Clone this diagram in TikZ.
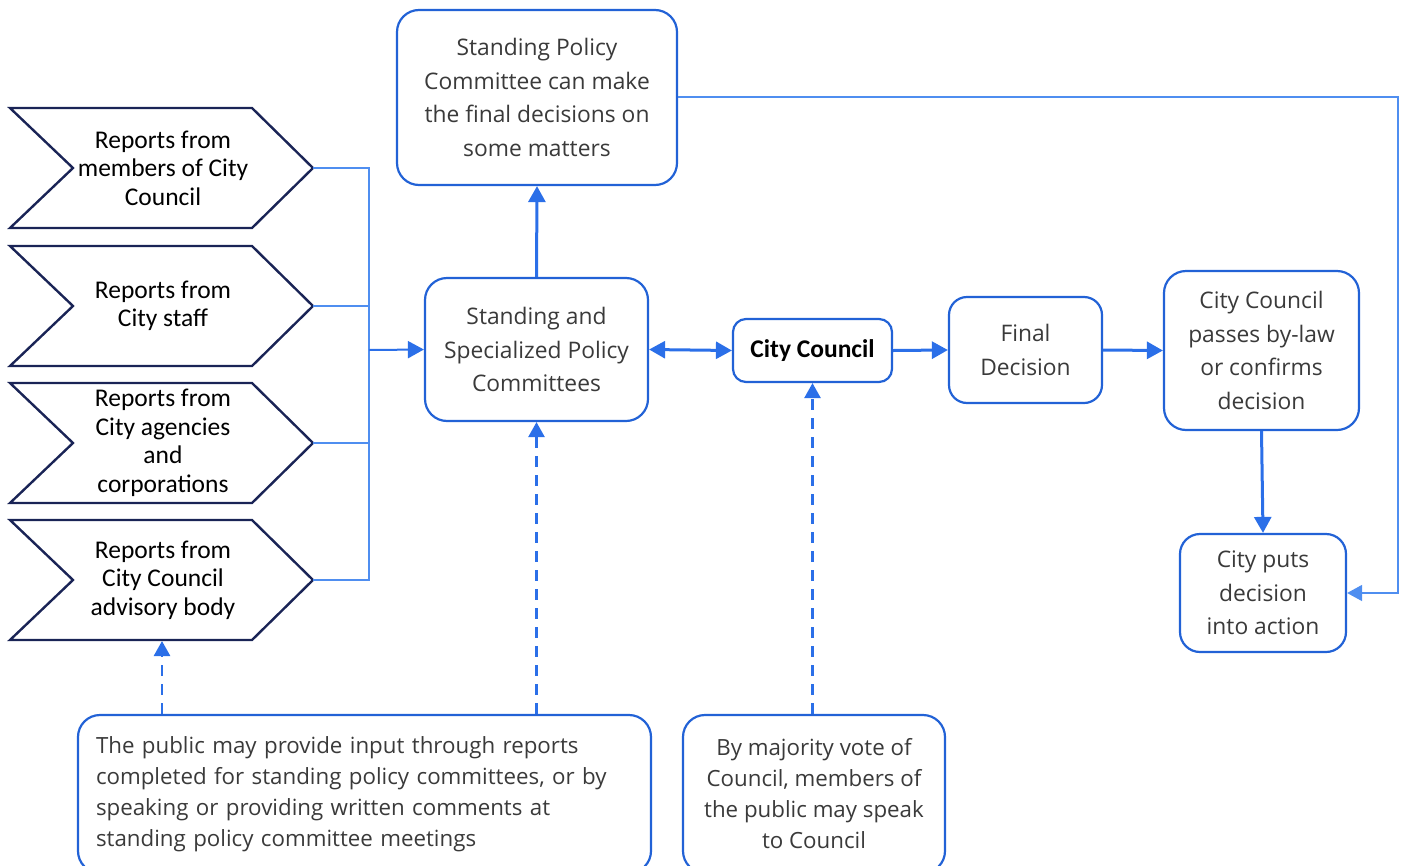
\documentclass[tikz,border=0pt]{standalone}
\usepackage{fontspec}
\setmainfont{Open Sans}
\newfontfamily\calfont{Carlito}
\usetikzlibrary{arrows.meta}
\definecolor{bx}{HTML}{2262D6}
\definecolor{ar}{HTML}{2B6FE8}
\definecolor{thin}{HTML}{4F8EF0}
\definecolor{nav}{HTML}{1A2456}
\definecolor{tx}{HTML}{3A3A3A}
\begin{document}
\begin{tikzpicture}[x=1pt,y=-1pt,
  rbox/.style={draw=bx, line width=2.2pt, rounded corners=22pt, fill=white, text=tx, align=center, inner sep=0pt,
    font=\fontsize{22.8}{33.5}\selectfont},
  chevtext/.style={align=center, text=black, font=\calfont\fontsize{25.5}{28.5}\selectfont, inner sep=0pt},
  chev/.style={draw=nav, line width=2.4pt, line join=miter},
  thk/.style={draw=ar, line width=3pt, -{Triangle[length=16pt,width=17pt]}},
  thn/.style={draw=thin, line width=1.5pt},
  dsh/.style={draw=ar, line width=2.6pt, dash pattern=on 11pt off 8pt, -{Triangle[length=15pt,width=16pt]}}
]
\useasboundingbox (0,0) rectangle (1403,865);
\clip (0,0) rectangle (1403,865);

% chevrons
\foreach \n/\y/\t in {c1/168/{Reports from\\members of City\\Council},
                      c2/306/{Reports from\\City staff},
                      c3/443/{Reports from\\City agencies\\and\\corporations},
                      c4/580/{Reports from\\City Council\\advisory body}}{
  \draw[chev] (10,{\y-60}) -- (252,{\y-60}) -- (313,\y) -- (252,{\y+60}) -- (10,{\y+60}) -- (73,\y) -- cycle;
  \node[chevtext] (\n t) at (163,\y) {\t};
  \coordinate (\n) at (313,\y);
}
\coordinate (c4b) at (162,641);

% boxes
\node[rbox, minimum width=280, minimum height=175] (top) at (537,97.5)
  {Standing Policy\\Committee can make\\the final decisions on\\some matters};
\node[rbox, minimum width=223, minimum height=143] (sspc) at (536.5,349.5)
  {Standing and\\Specialized Policy\\Committees};
\node[rbox, minimum width=159, minimum height=63, rounded corners=13pt, text=black,
  font=\calfont\bfseries\fontsize{25.5}{28}\selectfont] (cc) at (812.5,350.5) {City Council};
\node[rbox, minimum width=153, minimum height=106, rounded corners=18pt] (fd) at (1025.5,350) {Final\\Decision};
\node[rbox, minimum width=195, minimum height=159] (ccp) at (1261.5,350.5)
  {City Council\\passes by-law\\or confirms\\decision};
\node[rbox, minimum width=166, minimum height=118, rounded corners=20pt] (cp) at (1263,593)
  {City puts\\decision\\into action};
\node[rbox, minimum width=573, minimum height=158, align=left, text width=537,
  font=\fontsize{22.3}{31}\selectfont] (b1) at (364.5,794)
  {The public may provide input through reports\\completed for standing policy committees, or by\\speaking or providing written comments at\\standing policy committee meetings};
\node[rbox, minimum width=262, minimum height=158,
  font=\fontsize{22.3}{31}\selectfont] (b2) at (814,794)
  {By majority vote of\\Council, members of\\the public may speak\\to Council};

% thin connectors from chevrons
\coordinate (j1) at (369,168);
\coordinate (j4) at (369,580);
\coordinate (jm) at (369,350);
\draw[thn] (c1) -- (j1) -- (j4) -- (c4);
\draw[thn] (c2) -- (369,306);
\draw[thn] (c3) -- (369,443);
\draw[thk, line width=2pt] (jm) -- (sspc.west);

% main arrows
\draw[thk] (sspc.north) -- (top.south);
\draw[draw=ar, line width=3pt, {Triangle[length=16pt,width=17pt]}-{Triangle[length=16pt,width=17pt]}] (sspc.east) -- (cc.west);
\draw[thk] (cc.east) -- (fd.west);
\draw[thk] (fd.east) -- (ccp.west);
\draw[thk] (ccp.south) -- (cp.north);

% top box to action
\coordinate (tr) at (1398,97);
\coordinate (br) at (1398,593);
\draw[thn, -{Triangle[length=15pt,width=16pt]}] (top.east |- tr) -- (tr) -- (br) -- (cp.east);

% dashed
\draw[dsh] (b1.north -| c4b) -- (c4b);
\draw[dsh] (b1.north -| sspc.south) -- (sspc.south);
\draw[dsh] (b2.north -| cc.south) -- (cc.south);
\end{tikzpicture}
\end{document}
